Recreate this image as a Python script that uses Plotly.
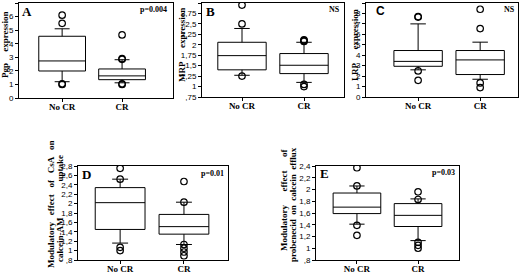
import plotly.graph_objects as go

W, H = 520, 274
groups = ["No CR", "CR"]

# Panel A: Pgp expression
pgp_low = [1.2, 1.12]
pgp_q1 = [1.99, 1.35]
pgp_med = [2.73, 1.63]
pgp_q3 = [4.55, 2.14]
pgp_high = [5.1, 2.82]
pgp_out_nocr = [6.1, 5.5, 1.05, 1.0]
pgp_out_cr = [4.65, 2.9, 2.85, 1.05, 1.0]

# Panel B: MRP expression
mrp_low = [1.27, 1.1]
mrp_q1 = [1.40, 1.31]
mrp_med = [1.74, 1.51]
mrp_q3 = [2.06, 1.79]
mrp_high = [2.39, 2.06]
mrp_out_nocr = [2.95, 2.5, 1.25]
mrp_out_cr = [2.12, 2.1, 2.08, 1.05, 1.0]

# Panel C: LRP expression
lrp_low = [2.6, 1.7]
lrp_q1 = [2.94, 2.15]
lrp_med = [3.41, 3.55]
lrp_q3 = [4.45, 4.45]
lrp_high = [7.0, 5.25]
lrp_out_nocr = [7.7, 7.65, 2.5, 1.6]
lrp_out_cr = [8.4, 6.55, 1.35, 0.9]

# Panel D: CsA effect on calcein-AM uptake
csa_low = [1.16, 1.13]
csa_q1 = [1.45, 1.35]
csa_med = [2.02, 1.51]
csa_q3 = [2.34, 1.77]
csa_high = [2.52, 2.03]
csa_out_nocr = [2.75, 2.52, 1.07, 1.0]
csa_out_cr = [2.47, 2.03, 1.13, 1.05, 0.97, 0.89]

# Panel E: probenecid effect on calcein efflux
prb_low = [1.41, 1.13]
prb_q1 = [1.59, 1.37]
prb_med = [1.70, 1.56]
prb_q3 = [1.94, 1.76]
prb_high = [2.06, 1.84]
prb_out_nocr = [2.37, 2.06, 1.39, 1.22]
prb_out_cr = [1.96, 1.83, 1.1, 1.05, 1.0]

ticks_A = [0, 1, 2, 3, 4, 5, 6, 7]
ticks_A_txt = ["0", "1", "2", "3", "4", "5", "6", "7"]
ticks_B = [0.75, 1, 1.25, 1.5, 1.75, 2, 2.25, 2.5, 2.75, 3]
ticks_B_txt = [",75", "1", "1,25", "1,5", "1,75", "2", "2,25", "2,5", "2,75", "3"]
ticks_C = [0, 1, 2, 3, 4, 5, 6, 7, 8, 9]
ticks_C_txt = ["0", "1", "2", "3", "4", "5", "6", "7", "8", "9"]
ticks_D = [0.8, 1, 1.2, 1.4, 1.6, 1.8, 2, 2.2, 2.4, 2.6, 2.8]
ticks_D_txt = [",8", "1", "1,2", "1,4", "1,6", "1,8", "2", "2,2", "2,4", "2,6", "2,8"]
ticks_E = [0.8, 1, 1.2, 1.4, 1.6, 1.8, 2, 2.2, 2.4]
ticks_E_txt = [",8", "1", "1,2", "1,4", "1,6", "1,8", "2", "2,2", "2,4"]

SERIF = "Liberation Serif, Times New Roman, serif"
SANS = "Liberation Sans, Arial, sans-serif"
NB = "\u00a0"
INK = "#000000"

panels = [
    dict(n="", st=(pgp_low, pgp_q1, pgp_med, pgp_q3, pgp_high), o=(pgp_out_nocr, pgp_out_cr),
         tv=ticks_A, tt=ticks_A_txt, yr=[0, 7], xp=(19, 173), yp=(3, 98), xr=[-0.72, 1.85]),
    dict(n="2", st=(mrp_low, mrp_q1, mrp_med, mrp_q3, mrp_high), o=(mrp_out_nocr, mrp_out_cr),
         tv=ticks_B, tt=ticks_B_txt, yr=[0.75, 3], xp=(202, 344), yp=(3, 97), xr=[-0.645, 1.645]),
    dict(n="3", st=(lrp_low, lrp_q1, lrp_med, lrp_q3, lrp_high), o=(lrp_out_nocr, lrp_out_cr),
         tv=ticks_C, tt=ticks_C_txt, yr=[0, 9], xp=(366, 518), yp=(3, 97), xr=[-0.84, 1.61]),
    dict(n="4", st=(csa_low, csa_q1, csa_med, csa_q3, csa_high), o=(csa_out_nocr, csa_out_cr),
         tv=ticks_D, tt=ticks_D_txt, yr=[0.8, 2.8], xp=(78, 228), yp=(166, 260), xr=[-0.66, 1.69]),
    dict(n="5", st=(prb_low, prb_q1, prb_med, prb_q3, prb_high), o=(prb_out_nocr, prb_out_cr),
         tv=ticks_E, tt=ticks_E_txt, yr=[0.8, 2.4], xp=(316, 459), yp=(166, 260), xr=[-0.67, 1.67]),
]

fig = go.Figure()
layout = {}
for p in panels:
    n = p["n"]
    low, q1, med, q3, high = p["st"]
    xs = list(range(len(groups)))
    fig.add_trace(go.Box(
        x=xs, lowerfence=low, q1=q1, median=med, q3=q3, upperfence=high,
        width=0.78, whiskerwidth=0.32, boxpoints=False,
        fillcolor="white", line=dict(color=INK, width=1),
        xaxis="x" + n, yaxis="y" + n, showlegend=False, hoverinfo="skip"))
    ox, oy = [], []
    for gi, vals in enumerate(p["o"]):
        ox += [gi] * len(vals)
        oy += vals
    fig.add_trace(go.Scatter(
        x=ox, y=oy, mode="markers",
        marker=dict(symbol="circle-open", size=6.5, color=INK, line=dict(width=1.2, color=INK)),
        xaxis="x" + n, yaxis="y" + n, showlegend=False, hoverinfo="skip"))
    x0, x1 = p["xp"]
    yt, yb = p["yp"]
    layout["xaxis" + n] = dict(
        domain=[x0 / W, x1 / W], anchor="y" + n, range=p["xr"],
        tickvals=xs, ticktext=["<b>%s</b>" % g for g in groups],
        tickfont=dict(family=SERIF, size=9, color=INK),
        ticks="outside", ticklen=3, tickcolor=INK, ticklabelstandoff=-3,
        showline=True, linecolor=INK, linewidth=1, mirror=True,
        showgrid=False, zeroline=False, fixedrange=True)
    layout["yaxis" + n] = dict(
        domain=[1 - yb / H, 1 - yt / H], anchor="x" + n, range=p["yr"],
        tickvals=p["tv"], ticktext=p["tt"],
        tickfont=dict(family=SANS, size=8, color=INK),
        ticks="outside", ticklen=3, tickcolor=INK,
        showline=True, linecolor=INK, linewidth=1, mirror=True,
        showgrid=False, zeroline=False, fixedrange=True)

ann = []

def txt(x, y, s, size=9, family=SERIF, angle=0, xanchor="center", yanchor="middle"):
    ann.append(dict(x=x / W, y=1 - y / H, xref="paper", yref="paper", text=s,
                    showarrow=False, textangle=angle, xanchor=xanchor, yanchor=yanchor,
                    borderpad=0, font=dict(family=family, size=size, color=INK)))

# panel letters
txt(21, 11, "<b>A</b>", size=13, xanchor="left")
txt(205, 11, "<b>B</b>", size=13, xanchor="left")
txt(375, 11, "<b>C</b>", size=12, family=SANS, xanchor="left")
txt(81, 174, "<b>D</b>", size=13, xanchor="left")
txt(319, 173, "<b>E</b>", size=13, xanchor="left")

# p-values
txt(168, 10, "<b>p=0.004</b>", size=8, xanchor="right")
txt(341, 9, "<b>NS</b>", size=8, xanchor="right")
txt(516, 9, "<b>NS</b>", size=8, xanchor="right")
txt(225, 173, "<b>p=0.01</b>", size=8, xanchor="right")
txt(456, 172, "<b>p=0.03</b>", size=8, xanchor="right")

# y-axis titles (rotated, centred on the given x)
txt(5, 45, "<b>Pgp" + NB * 5 + "expression</b>", size=9, angle=-90)
txt(182, 45, "<b>MRP" + NB * 6 + "expression</b>", size=9, angle=-90)
txt(355, 45, "<b>LRP" + NB * 6 + "expression</b>", size=9, angle=-90)
txt(51, 205, "<b>Modulatory" + NB * 3 + "effect" + NB * 3 + "of" + NB * 3 + "CsA" + NB * 3 + "on</b>", size=9, angle=-90)
txt(60, 209, "<b>calcein-AM" + NB * 16 + "uptake</b>", size=9, angle=-90)
txt(284, 200, "<b>Modulatory" + NB * 6 + "effect" + NB * 6 + "of</b>", size=9, angle=-90)
txt(293, 205, "<b>probenecid" + NB * 2 + "on" + NB * 2 + "calcein" + NB * 2 + "efflux</b>", size=9, angle=-90)

fig.update_layout(
    template="none",
    width=W, height=H, margin=dict(l=0, r=0, t=0, b=0),
    paper_bgcolor="white", plot_bgcolor="white",
    annotations=ann, boxmode="overlay", **layout)

fig.write_html("out.html", config={"displayModeBar": False},
               post_script="document.body.style.margin='0';document.body.style.overflow='hidden';")
